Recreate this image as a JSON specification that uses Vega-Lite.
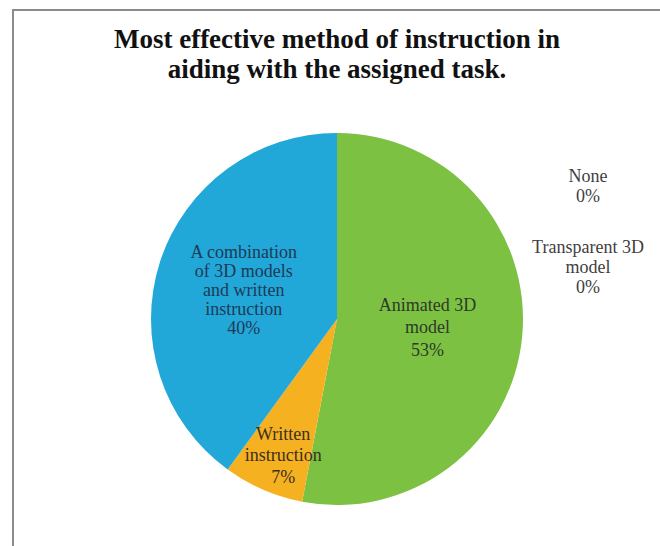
{
  "$schema": "https://vega.github.io/schema/vega-lite/v6.json",
  "width": 648,
  "height": 618,
  "autosize": {"type": "none"},
  "padding": {"left": 13, "top": 10, "right": 0, "bottom": 0},
  "background": "white",
  "view": {"stroke": "#8c8c8c", "strokeWidth": 2},
  "config": {"view": {"stroke": "#8c8c8c", "strokeWidth": 2}},
  "title": {
    "text": ["Most effective method of instruction in", "aiding with the assigned task."],
    "font": "Liberation Serif",
    "fontSize": 27,
    "fontWeight": "bold",
    "color": "#111111",
    "anchor": "middle",
    "offset": -74,
    "lineHeight": 30
  },
  "data": {
    "values": [
      {"i": 1, "method": "Animated 3D model", "value": 53, "label": "Animated 3D\nmodel\n53%"},
      {"i": 2, "method": "Written instruction", "value": 7, "label": "Written\ninstruction\n7%"},
      {"i": 3, "method": "A combination of 3D models and written instruction", "value": 40, "label": "A combination\nof 3D models\nand written\ninstruction\n40%"},
      {"i": 4, "method": "None", "value": 0, "label": "None\n0%"},
      {"i": 5, "method": "Transparent 3D model", "value": 0, "label": "Transparent 3D\nmodel\n0%"}
    ]
  },
  "encoding": {
    "theta": {"field": "value", "type": "quantitative", "stack": true},
    "order": {"field": "i", "type": "quantitative"}
  },
  "layer": [
    {
      "mark": {"type": "arc", "outerRadius": 186},
      "encoding": {
        "color": {
          "field": "method",
          "type": "nominal",
          "scale": {
            "domain": ["Animated 3D model", "Written instruction", "A combination of 3D models and written instruction", "None", "Transparent 3D model"],
            "range": ["#7cc142", "#f5b120", "#22a7d9", "#4472c4", "#a5a5a5"]
          },
          "legend": null
        }
      }
    },
    {
      "mark": {"type": "text", "radius": 91, "dy": -22, "font": "Liberation Serif", "fontSize": 18, "lineBreak": "\n", "lineHeight": 22.5, "color": "#2e3a28", "align": "center", "baseline": "middle"},
      "encoding": {"text": {"condition": {"test": "datum.i == 1", "field": "label"}, "value": ""}}
    },
    {
      "mark": {"type": "text", "radius": 98, "dy": -36, "font": "Liberation Serif", "fontSize": 18, "lineBreak": "\n", "lineHeight": 19, "color": "#1f3a55", "align": "center", "baseline": "middle"},
      "encoding": {"text": {"condition": {"test": "datum.i == 3", "field": "label"}, "value": ""}}
    },
    {
      "mark": {"type": "text", "radius": 148, "dx": 5, "dy": -20, "font": "Liberation Serif", "fontSize": 18, "lineBreak": "\n", "lineHeight": 21.5, "color": "#3a3020", "align": "center", "baseline": "middle"},
      "encoding": {"text": {"condition": {"test": "datum.i == 2", "field": "label"}, "value": ""}}
    },
    {
      "mark": {"type": "text", "radius": 0, "dx": 251, "dy": -142, "font": "Liberation Serif", "fontSize": 18, "lineBreak": "\n", "lineHeight": 20, "color": "#404040", "align": "center", "baseline": "middle"},
      "encoding": {"text": {"condition": {"test": "datum.i == 4", "field": "label"}, "value": ""}}
    },
    {
      "mark": {"type": "text", "radius": 0, "dx": 251, "dy": -71, "font": "Liberation Serif", "fontSize": 18, "lineBreak": "\n", "lineHeight": 20, "color": "#404040", "align": "center", "baseline": "middle"},
      "encoding": {"text": {"condition": {"test": "datum.i == 5", "field": "label"}, "value": ""}}
    }
  ]
}
